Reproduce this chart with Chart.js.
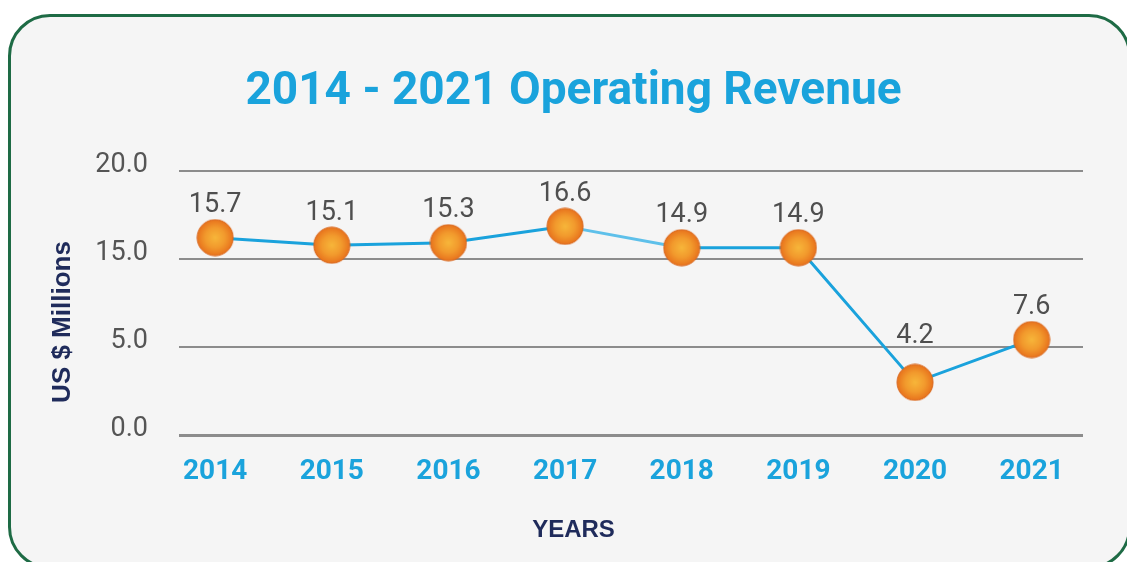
<!DOCTYPE html>
<html>
<head>
<meta charset="utf-8">
<script src="https://cdn.jsdelivr.net/npm/chart.js@4.4.1/dist/chart.umd.min.js"></script>
<style>
  html, body { margin: 0; padding: 0; background: #ffffff; overflow: hidden; }
  #wrap { position: relative; width: 1127px; height: 562px; }
  #card {
    position: absolute; left: 8px; top: 14px; right: -4px; bottom: -7px;
    background: #f5f5f5; border: 3px solid #1e6b45; border-radius: 42px;
  }
  #chart { position: absolute; left: 0; top: 0; }
</style>
</head>
<body>
<div id="wrap">
  <div id="card"></div>
  <canvas id="chart" width="1127" height="562"></canvas>
</div>
<script>
// Data
const years = [2014, 2015, 2016, 2017, 2018, 2019, 2020, 2021];
const revenue = [15.7, 15.1, 15.3, 16.6, 14.9, 14.9, 4.2, 7.6];
const yTickValues = [0, 7, 14, 21];
const yTickLabels = ["0.0", "5.0", "15.0", "20.0"];

// Orange ball used as the point marker
function makeBall(r) {
    const c = document.createElement("canvas");
    c.width = c.height = r * 2 + 2;
    const g = c.getContext("2d");
    const grad = g.createRadialGradient(r + 1, r + 1, 0, r + 1, r + 1, r);
    grad.addColorStop(0, "#f7b63a");
    grad.addColorStop(0.55, "#f29a2d");
    grad.addColorStop(1, "#e8731d");
    g.beginPath();
    g.arc(r + 1, r + 1, r, 0, Math.PI * 2);
    g.fillStyle = grad;
    g.fill();
    g.lineWidth = 1;
    g.strokeStyle = "#d8651a";
    g.stroke();
    return c;
}
const ball = makeBall(18);

// Value labels above points
const valueLabels = {
    id: "valueLabels",
    afterDatasetsDraw(chart, args, opts) {
        const ctx = chart.ctx;
        const meta = chart.getDatasetMeta(0);
        ctx.save();
        ctx.font = "27px Roboto";
        ctx.fillStyle = "#4f4f4f";
        ctx.textAlign = "center";
        ctx.textBaseline = "middle";
        meta.data.forEach((pt, i) => {
            const lift = (opts.extraLift && opts.extraLift[i]) || 0;
            ctx.fillText(revenue[i].toFixed(1), pt.x, pt.y - 32 - lift);
        });
        ctx.restore();
    }
};

// Rotated y-axis title
const yTitle = {
    id: "yTitle",
    afterDraw(chart) {
        const ctx = chart.ctx;
        ctx.save();
        ctx.translate(63, 322);
        ctx.rotate(-Math.PI / 2);
        ctx.font = "bold 26px 'Liberation Sans'";
        ctx.fillStyle = "#1f2b5b";
        ctx.textAlign = "center";
        ctx.textBaseline = "middle";
        ctx.fillText("US $ Millions", 0, 0);
        ctx.restore();
    }
};

new Chart(document.getElementById("chart"), {
    type: "line",
    data: {
        datasets: [{
            data: years.map((y, i) => ({ x: y, y: revenue[i] })),
            borderColor: "#1aa2dc",
            borderWidth: 3,
            tension: 0,
            pointStyle: ball,
            segment: {
                borderColor: c => c.p0DataIndex === 3 ? "#5ec0ea" : undefined
            }
        }]
    },
    options: {
        responsive: false,
        animation: false,
        events: [],
        layout: { padding: { left: 64, right: 44, top: 0, bottom: 0 } },
        plugins: {
            legend: { display: false },
            tooltip: { enabled: false },
            title: {
                display: true,
                text: "2014 - 2021 Operating Revenue",
                color: "#1aa3dc",
                font: { family: "Roboto", size: 46, weight: "bold" },
                padding: { top: 65, bottom: 50.8 }
            },
            subtitle: {
                display: true,
                position: "bottom",
                text: "YEARS",
                color: "#1f2b5b",
                font: { family: "'Liberation Sans'", size: 24, weight: "bold" },
                padding: { top: 21, bottom: 17 }
            },
            valueLabels: { extraLift: [0, 0, 0, 0, 0, 0, 14, 0] }
        },
        scales: {
            x: {
                type: "linear",
                min: 2013.69,
                max: 2021.44,
                afterBuildTicks: s => { s.ticks = years.map(v => ({ value: v })); },
                afterFit: s => { s.height = 60; },
                grid: { display: false },
                border: { display: false },
                ticks: {
                    padding: 12,
                    color: "#1aa3dc",
                    font: { family: "Roboto", size: 28, weight: "bold" },
                    callback: v => String(v)
                }
            },
            y: {
                min: 0,
                max: 21,
                afterBuildTicks: s => { s.ticks = yTickValues.map(v => ({ value: v })); },
                afterFit: s => { s.width = 115; },
                grid: {
                    color: "#8c8c8c",
                    lineWidth: c => c.tick && c.tick.value === 0 ? 3 : 2,
                    drawTicks: false
                },
                border: { display: false },
                ticks: {
                    padding: 31,
                    color: "#555555",
                    font: { family: "Roboto", size: 27, lineHeight: 0.45 },
                    // empty second line lifts the label slightly above its gridline
                    callback: (v, i) => [yTickLabels[i], ""]
                }
            }
        }
    },
    plugins: [valueLabels, yTitle]
});
</script>
</body>
</html>
